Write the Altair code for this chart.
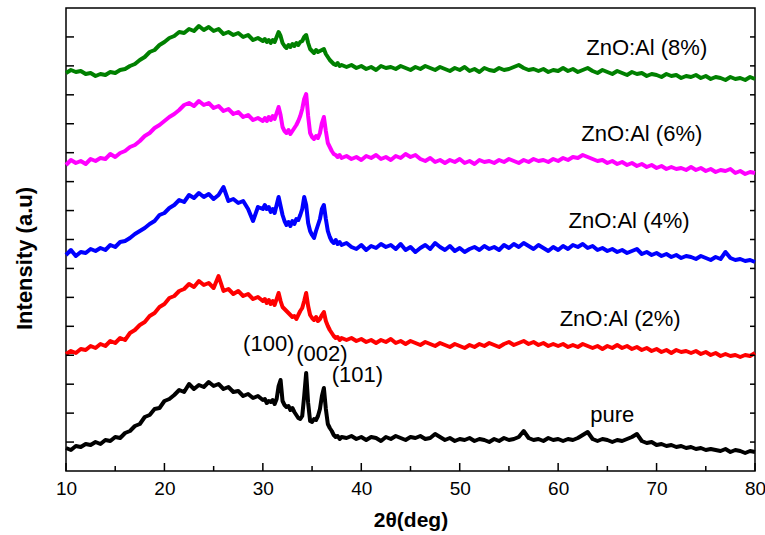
import altair as alt
import numpy as np
import pandas as pd

# ---- x grid segments (2-theta, degrees) ----
SEG_A = (10.0, 30.0)   # 0.5 deg step
SEG_B = (30.2, 38.0)   # 0.2 deg step (peak region)
SEG_C = (38.5, 80.0)   # 0.5 deg step

# ---- intensities (arbitrary units) ----
pure_a = [23, 21, 25, 24, 27, 26, 29, 27, 31, 30,
          34, 33, 38, 40, 45, 47, 54, 56, 62, 63,
          70, 72, 76, 81, 79, 87, 82, 86, 84, 89,
          85, 87, 82, 84, 79, 80, 75, 77, 73, 75, 71]
pure_b = [72, 68, 70, 69, 71, 67, 72, 85, 91, 70,
          66, 64, 65, 61, 63, 59, 56, 53, 52, 55,
          75, 98, 68, 50, 49, 52, 51, 55, 62, 75,
          83, 62, 47, 43, 40, 36, 34, 35, 32, 34]
pure_c = [33, 35, 32, 34, 31, 34, 33, 30, 34, 32,
          35, 33, 31, 34, 33, 35, 32, 33, 37, 34,
          31, 33, 30, 32, 31, 33, 30, 32, 31, 29,
          32, 30, 33, 31, 32, 34, 40, 33, 31, 32,
          30, 33, 31, 32, 30, 32, 31, 33, 36, 39,
          32, 30, 32, 31, 29, 31, 30, 32, 34, 37,
          30, 28, 29, 26, 27, 25, 26, 24, 25, 23,
          24, 22, 23, 21, 22, 21, 20, 22, 19, 21,
          20, 18, 20, 19]

al2_a = [117, 120, 118, 122, 121, 125, 123, 127, 125, 130,
         128, 133, 131, 138, 141, 146, 149, 155, 158, 164,
         167, 173, 175, 180, 182, 187, 184, 190, 186, 188,
         183, 195, 180, 182, 177, 180, 175, 177, 172, 174, 170]
al2_b = [172, 168, 171, 167, 170, 166, 172, 178, 170, 164,
         162, 160, 158, 156, 154, 155, 152, 156, 160, 163,
         170, 178, 165, 156, 153, 151, 154, 150, 152, 156,
         159, 150, 145, 141, 138, 135, 133, 134, 131, 133]
al2_c = [131, 133, 130, 132, 129, 131, 128, 131, 129, 132,
         128, 130, 127, 130, 128, 126, 129, 127, 125, 128,
         126, 124, 127, 125, 123, 126, 124, 127, 125, 128,
         126, 124, 127, 129, 126, 128, 130, 127, 129, 126,
         128, 125, 127, 125, 127, 124, 126, 124, 127, 125,
         123, 125, 122, 125, 123, 126, 123, 125, 122, 124,
         121, 123, 120, 122, 119, 121, 118, 121, 119, 120,
         118, 120, 117, 119, 116, 118, 115, 117, 115, 116,
         114, 116, 115, 118]

al4_a = [216, 221, 215, 219, 218, 222, 220, 223, 221, 226,
         224, 229, 230, 233, 237, 240, 243, 247, 250, 256,
         258, 263, 266, 271, 269, 276, 273, 278, 274, 277,
         272, 276, 284, 270, 272, 268, 270, 262, 250, 264, 262]
al4_b = [266, 262, 264, 259, 262, 258, 266, 274, 265, 256,
         250, 246, 249, 245, 250, 247, 252, 251, 256, 262,
         274, 266, 248, 240, 236, 233, 240, 246, 252, 262,
         266, 252, 240, 234, 230, 228, 231, 227, 229, 226]
al4_c = [228, 224, 222, 226, 221, 225, 223, 227, 224, 226,
         222, 227, 221, 224, 219, 223, 226, 222, 228, 224,
         221, 225, 220, 223, 219, 222, 224, 221, 225, 222,
         224, 221, 226, 223, 227, 224, 228, 225, 222, 226,
         223, 220, 224, 221, 225, 222, 226, 224, 227, 223,
         225, 221, 223, 220, 222, 219, 221, 218, 220, 222,
         217, 219, 216, 218, 215, 217, 214, 216, 213, 215,
         214, 212, 215, 213, 211, 214, 212, 219, 213, 211,
         212, 210, 211, 209]

al6_a = [306, 311, 308, 310, 307, 312, 310, 313, 312, 317,
         314, 318, 320, 324, 326, 330, 335, 338, 343, 346,
         350, 354, 357, 361, 366, 368, 365, 370, 366, 368,
         363, 365, 360, 362, 357, 359, 354, 356, 351, 353, 350]
al6_b = [353, 350, 354, 351, 355, 352, 358, 364, 356, 344,
         340, 338, 341, 337, 340, 343, 346, 350, 355, 362,
         372, 377, 355, 338, 334, 332, 335, 333, 338, 348,
         354, 340, 328, 324, 320, 317, 316, 314, 316, 313]
al6_c = [315, 312, 314, 311, 315, 313, 316, 312, 314, 311,
         315, 313, 317, 314, 316, 312, 310, 313, 309, 311,
         308, 311, 309, 312, 308, 310, 307, 311, 309, 310,
         308, 311, 309, 312, 310, 308, 311, 309, 312, 310,
         311, 309, 312, 310, 313, 311, 314, 313, 316, 314,
         312, 310, 311, 308, 310, 307, 309, 306, 308, 305,
         307, 304, 306, 303, 305, 302, 304, 302, 303, 301,
         304, 301, 303, 300, 302, 299, 301, 300, 302, 298,
         300, 297, 299, 298]

al8_a = [398, 401, 399, 400, 397, 398, 395, 397, 396, 399,
         398, 401, 402, 405, 407, 411, 414, 419, 421, 426,
         429, 433, 435, 439, 438, 442, 440, 445, 441, 444,
         440, 442, 437, 439, 436, 438, 434, 436, 431, 433, 430]
al8_b = [432, 429, 431, 428, 431, 429, 434, 439, 435, 428,
         425, 423, 426, 424, 427, 425, 428, 426, 429, 430,
         434, 436, 428, 422, 420, 418, 421, 419, 420, 421,
         422, 417, 414, 411, 409, 407, 406, 408, 405, 406]
al8_c = [404, 406, 403, 405, 402, 404, 401, 405, 403, 404,
         402, 405, 403, 401, 404, 402, 405, 403, 401, 404,
         402, 400, 403, 401, 404, 400, 402, 399, 403, 401,
         400, 403, 401, 402, 404, 406, 403, 401, 402, 400,
         402, 399, 401, 400, 403, 400, 402, 399, 401, 403,
         400, 398, 401, 399, 397, 400, 398, 396, 399, 397,
         398, 395, 397, 396, 394, 397, 395, 396, 393, 395,
         394, 396, 393, 395, 392, 394, 393, 391, 394, 392,
         393, 391, 394, 392]

SERIES = ["pure", "ZnO:Al (2%)", "ZnO:Al (4%)", "ZnO:Al (6%)", "ZnO:Al (8%)"]
COLORS = ["#000000", "#ff0000", "#0000ff", "#ff00ff", "#008000"]
SEGMENTS = {
    "pure": (pure_a, pure_b, pure_c),
    "ZnO:Al (2%)": (al2_a, al2_b, al2_c),
    "ZnO:Al (4%)": (al4_a, al4_b, al4_c),
    "ZnO:Al (6%)": (al6_a, al6_b, al6_c),
    "ZnO:Al (8%)": (al8_a, al8_b, al8_c),
}

# annotations: text, x (deg), y (a.u., text baseline)
ANN_TEXT = ["ZnO:Al (8%)", "ZnO:Al (6%)", "ZnO:Al (4%)", "ZnO:Al (2%)", "pure",
            "(100)", "(002)", "(101)"]
ANN_X = [69.0, 68.5, 67.2, 66.3, 65.5, 30.6, 36.0, 39.6]
ANN_Y = [416, 330, 243, 145, 49, 120, 110, 89]

X_TICKS = [10, 20, 30, 40, 50, 60, 70, 80]
X_MINOR = [15, 25, 35, 45, 55, 65, 75]
Y_MAX = 463
Y_TICKS = [Y_MAX / 16 * k for k in range(1, 16)]

W, H = 689, 463
FONT = "Liberation Sans"

rows = []
for s in SERIES:
    segs = SEGMENTS[s]
    for (lo, hi), vals in zip([SEG_A, SEG_B, SEG_C], segs):
        xs = np.linspace(lo, hi, len(vals))
        for xv, yv in zip(xs, vals):
            rows.append({"series": s, "theta": float(xv), "I": yv})
df = pd.DataFrame(rows)
df["order"] = range(len(df))

xscale = alt.Scale(domain=[10, 80], nice=False, zero=False)
yscale = alt.Scale(domain=[0, Y_MAX], nice=False, zero=False)

x_axis = alt.Axis(values=X_TICKS, format="d", labelFlush=False,
                  labelFont=FONT, labelFontSize=19, labelColor="black",
                  labelPadding=8, ticks=False, domain=False, grid=False,
                  title="2θ(deg)", titleFont=FONT, titleFontSize=21,
                  titleFontWeight="bold", titleColor="black", titlePadding=11)
y_axis = alt.Axis(labels=False, ticks=False, domain=False, grid=False,
                  title="Intensity (a.u)", titleFont=FONT, titleFontSize=22,
                  titleFontWeight="bold", titleColor="black", titlePadding=30,
                  titleY=250)

lines = alt.Chart(df).mark_line(strokeWidth=4, strokeJoin="round").encode(
    x=alt.X("theta:Q", scale=xscale, axis=x_axis, title="2θ(deg)"),
    y=alt.Y("I:Q", scale=yscale, axis=y_axis, title="Intensity (a.u)"),
    color=alt.Color("series:N", scale=alt.Scale(domain=SERIES, range=COLORS),
                    legend=None),
    order="order:Q",
)

ytick_df = pd.DataFrame({"I": Y_TICKS})
left_ticks = alt.Chart(ytick_df).mark_rule(color="black", strokeWidth=1.5).encode(
    y=alt.Y("I:Q", scale=yscale, title="Intensity (a.u)"),
    x=alt.value(0), x2=alt.value(8))
right_ticks = alt.Chart(ytick_df).mark_rule(color="black", strokeWidth=1.5).encode(
    y=alt.Y("I:Q", scale=yscale, title="Intensity (a.u)"),
    x=alt.value(W), x2=alt.value(W - 5))

xmaj_df = pd.DataFrame({"theta": X_TICKS})
xmin_df = pd.DataFrame({"theta": X_MINOR})
bottom_major = alt.Chart(xmaj_df).mark_rule(color="black", strokeWidth=1.5).encode(
    x=alt.X("theta:Q", scale=xscale, title="2θ(deg)"),
    y=alt.value(H), y2=alt.value(H - 8))
bottom_minor = alt.Chart(xmin_df).mark_rule(color="black", strokeWidth=1.5).encode(
    x=alt.X("theta:Q", scale=xscale, title="2θ(deg)"),
    y=alt.value(H), y2=alt.value(H - 5))

ann_df = pd.DataFrame({"label": ANN_TEXT, "theta": ANN_X, "I": ANN_Y})
annotations = alt.Chart(ann_df).mark_text(
    font=FONT, fontSize=22, color="black", align="center", baseline="alphabetic"
).encode(
    x=alt.X("theta:Q", scale=xscale, title="2θ(deg)"),
    y=alt.Y("I:Q", scale=yscale, title="Intensity (a.u)"),
    text="label:N",
)

chart = alt.layer(lines, left_ticks, right_ticks, bottom_major, bottom_minor,
                  annotations).properties(
    width=W, height=H,
    autosize=alt.AutoSizeParams(type="none"),
    padding={"left": 66, "top": 8, "right": 10, "bottom": 64},
    background="white",
).configure_view(stroke="black", strokeWidth=1.5)

chart.save("out.html", embed_options={"renderer": "svg", "actions": False})
